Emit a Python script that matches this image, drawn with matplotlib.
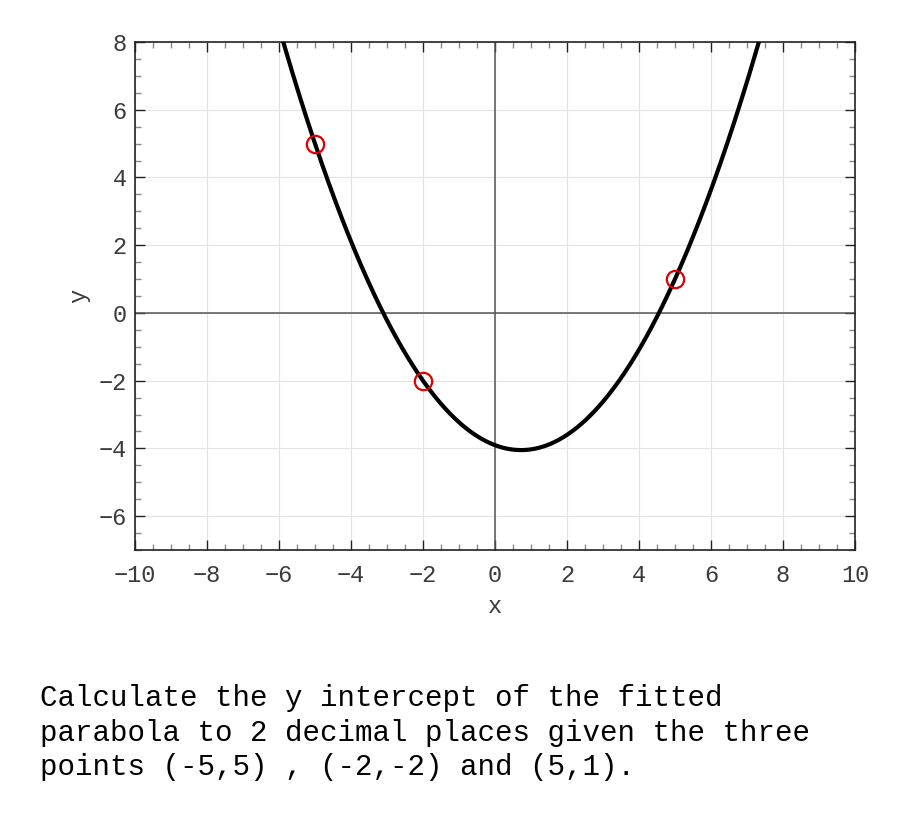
import numpy as np
import matplotlib
matplotlib.use("Agg")
import matplotlib.pyplot as plt
from matplotlib.ticker import MultipleLocator

# Data points
px = [-5, -2, 5]
py = [5, -2, 1]
x_ticks = [-10, -8, -6, -4, -2, 0, 2, 4, 6, 8, 10]
y_ticks = [-6, -4, -2, 0, 2, 4, 6, 8]
question = ("Calculate the y intercept of the fitted\n"
            "parabola to 2 decimal places given the three\n"
            "points (-5,5) , (-2,-2) and (5,1).")

plt.rcParams['font.family'] = ['Liberation Mono', 'DejaVu Sans Mono']

fig = plt.figure(figsize=(9, 8.25), dpi=100)
ax = fig.add_axes([0.15, 1 - 550/825, 0.80, (550 - 42)/825])

coef = np.polyfit(px, py, 2)
xs = np.linspace(-10, 10, 801)
ax.plot(xs, np.polyval(coef, xs), color='black', lw=3.0, zorder=3)
ax.plot(px, py, 'o', mfc='none', mec='#e00000', ms=12.5, mew=1.6, zorder=4)

ax.axhline(0, color='#555555', lw=1.1, zorder=2)
ax.axvline(0, color='#555555', lw=1.1, zorder=2)

ax.set_xlim(-10, 10)
ax.set_ylim(-7, 8)
ax.set_xticks(x_ticks)
ax.set_yticks(y_ticks)
ax.set_xticklabels([str(v).replace('-', '\u2212') for v in x_ticks])
ax.set_yticklabels([str(v).replace('-', '\u2212') for v in y_ticks])
ax.xaxis.set_minor_locator(MultipleLocator(0.5))
ax.yaxis.set_minor_locator(MultipleLocator(0.5))
ax.grid(True, which='major', color='#e3e3e3', lw=0.8, zorder=0)
ax.tick_params(which='both', direction='in', top=True, right=True,
               labelsize=17, labelcolor='#3a3a3a', color='#222222')
ax.tick_params(which='major', length=7, width=1)
ax.tick_params(which='minor', length=4, width=1, color='#888888')
ax.tick_params(axis='x', pad=10)
ax.tick_params(axis='y', pad=6)
for s in ax.spines.values():
    s.set_linewidth(1.2)
    s.set_color('#222222')

ax.set_xlabel('x', fontsize=17, color='#3a3a3a', labelpad=6)
ax.set_ylabel('y', fontsize=17, color='#3a3a3a', labelpad=6)

fig.text(40/900, 1 - 684/825, question, fontsize=21, va='top', ha='left',
         color='black', linespacing=1.3)

fig.savefig('out.png', dpi=100)
